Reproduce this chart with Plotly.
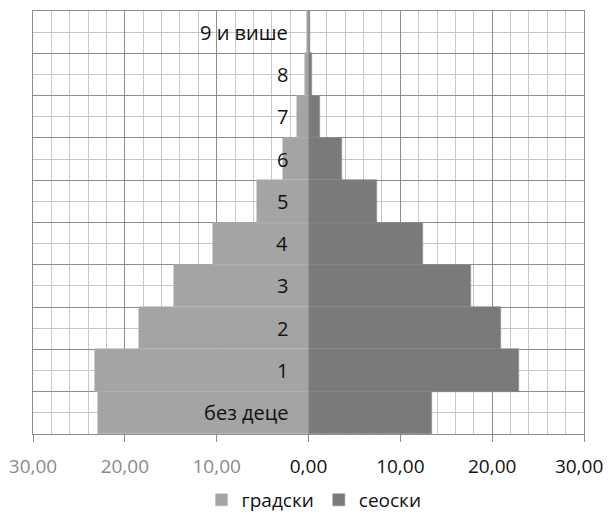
import plotly.graph_objects as go

categories = ["без деце", "1", "2", "3", "4", "5", "6", "7", "8", "9 и више"]
gradski = [22.9, 23.3, 18.5, 14.6, 10.4, 5.6, 2.8, 1.2, 0.4, 0.2]
seoski = [13.5, 22.9, 21.0, 17.7, 12.5, 7.5, 3.6, 1.25, 0.4, 0.15]
tick_vals = [-30, -20, -10, 0, 10, 20, 30]
tick_text = ['<span style="color:#8a8a8a">30,00</span>',
             '<span style="color:#8a8a8a">20,00</span>',
             '<span style="color:#8a8a8a">10,00</span>',
             '0,00', '10,00', '20,00', '30,00\u00a0\u00a0']

ypos = list(range(len(categories)))
FONT = "Open Sans"
FS = 20

fig = go.Figure()
fig.add_trace(go.Bar(
    y=ypos, x=[-v for v in gradski], orientation="h", name="градски",
    marker=dict(color="#a4a4a4", line=dict(color="#b8b8b8", width=0.6)),
    width=1.0,
))
fig.add_trace(go.Bar(
    y=ypos, x=seoski, orientation="h", name="сеоски",
    marker=dict(color="#7a7a7a", line=dict(color="#8c8c8c", width=0.6)),
    width=1.0,
))

for i, c in enumerate(categories):
    fig.add_annotation(x=0, y=i, text=c, showarrow=False, xanchor="right",
                       yanchor="middle", xshift=-19,
                       font=dict(family=FONT, size=FS, color="#111111"))

fig.update_layout(
    width=597, height=506,
    margin=dict(l=25, r=21, t=3, b=80, autoexpand=False),
    paper_bgcolor="white", plot_bgcolor="white",
    barmode="relative", bargap=0,
    font=dict(family=FONT, size=FS, color="#111111"),
    showlegend=True,
    legend=dict(orientation="h", x=0.51, xanchor="center", y=-0.156, yanchor="middle",
                font=dict(family=FONT, size=19, color="#111111"),
                itemwidth=30, traceorder="normal"),
)
fig.update_xaxes(
    range=[-30, 30], tickvals=tick_vals, ticktext=tick_text,
    showgrid=True, gridcolor="#8c8c8c", gridwidth=1,
    minor=dict(dtick=2, tick0=0, showgrid=True, gridcolor="#c8c8c8", gridwidth=1),
    ticks="outside", ticklen=7, tickcolor="#8c8c8c",
    ticklabelstandoff=8, automargin=False, ticklabeloverflow="allow",
    showline=True, linecolor="#8c8c8c", mirror=True,
    zeroline=False, tickfont=dict(size=19, color="#111111"),
)
fig.update_yaxes(
    range=[-0.5, 9.5], tick0=-0.5, dtick=1, showticklabels=False,
    showgrid=True, gridcolor="#8c8c8c", gridwidth=1,
    minor=dict(dtick=0.5, tick0=-0.5, showgrid=True, gridcolor="#c8c8c8", gridwidth=1),
    showline=True, linecolor="#8c8c8c", mirror=True, zeroline=False, automargin=False,
)

fig.write_html("out.html")
